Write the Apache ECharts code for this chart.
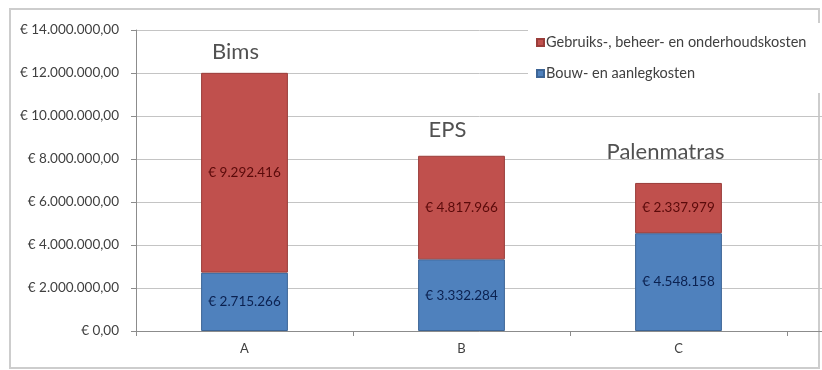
<!DOCTYPE html>
<html>
<head>
<meta charset="utf-8">
<script src="https://cdn.jsdelivr.net/npm/echarts@6/dist/echarts.min.js"></script>
<style>
  html, body { margin: 0; padding: 0; background: #fff; }
  #chart { width: 822px; height: 370px; }
</style>
</head>
<body>
<div id="chart"></div>
<script>
// data
const categories = ['A', 'B', 'C', '']
const bouwKosten = [2715266, 3332284, 4548158]
const gebruiksKosten = [9292416, 4817966, 2337979]
const variantNames = ['Bims', 'EPS', 'Palenmatras']
const seriesNames = ['Gebruiks-, beheer- en onderhoudskosten', 'Bouw- en aanlegkosten']
const yTicks = { min: 0, max: 14000000, interval: 2000000 }

// label nudges for the variant names above each bar
const nameOffsets = [[-9, -21], [-14, -26], [-13, -31]]

const FONT = 'Lato'
const dots = (v) => String(Math.round(v)).replace(/\B(?=(\d{3})+(?!\d))/g, '.')

const chart = echarts.init(document.getElementById('chart'))
chart.setOption({
  animation: false,
  textStyle: { fontFamily: FONT },
  // the picture is cut off on the right, so the plot runs past the edge
  grid: {
    left: 136, width: 868, top: 30, bottom: 39,
    containLabel: false, outerBoundsMode: 'none',
  },
  legend: {
    data: seriesNames,
    orient: 'vertical',
    left: 528,
    top: 23,
    backgroundColor: '#fff',
    padding: [12, 60, 12, 8],
    itemWidth: 7,
    itemHeight: 7,
    itemGap: 16,
    icon: 'rect',
    textStyle: { fontFamily: FONT, fontSize: 14.5, color: '#404040', padding: [0, 0, 0, -3] },
  },
  graphic: [
    {
      type: 'rect',
      shape: { x: 10, y: 9, width: 809, height: 359 },
      style: { fill: 'none', stroke: '#cdcdcd', lineWidth: 2 },
      z: 0,
    },
  ],
  xAxis: {
    type: 'category',
    data: categories,
    axisLine: { lineStyle: { color: '#8c8c8c' } },
    axisTick: { show: true, length: 5, lineStyle: { color: '#8c8c8c' } },
    axisLabel: { color: '#404040', fontSize: 13, margin: 11 },
  },
  yAxis: {
    type: 'value',
    min: yTicks.min,
    max: yTicks.max,
    interval: yTicks.interval,
    axisLine: { show: true, lineStyle: { color: '#8c8c8c' } },
    axisTick: { show: true, length: 5, lineStyle: { color: '#8c8c8c' } },
    splitLine: { lineStyle: { color: '#c4c4c4' } },
    axisLabel: {
      color: '#404040',
      fontSize: 13.5,
      margin: 17,
      formatter: (v) => '€ ' + dots(v) + ',00',
    },
  },
  series: [
    {
      name: seriesNames[1],
      type: 'bar',
      stack: 'kosten',
      barWidth: '40%',
      data: bouwKosten,
      itemStyle: { color: '#4f81bd', borderColor: '#3d6596', borderWidth: 1 },
      label: {
        show: true,
        position: 'inside',
        color: '#0b2150',
        fontSize: 13.5,
        formatter: (p) => '€ ' + dots(p.value),
      },
    },
    {
      name: seriesNames[0],
      type: 'bar',
      stack: 'kosten',
      data: gebruiksKosten,
      itemStyle: { color: '#c0504d', borderColor: '#9a3d3a', borderWidth: 1 },
      label: {
        show: true,
        position: 'inside',
        color: '#5a0a0a',
        fontSize: 13.5,
        formatter: (p) => '€ ' + dots(p.value),
      },
    },
    {
      name: 'namen',
      type: 'scatter',
      symbolSize: 0,
      silent: true,
      data: variantNames.map((name, i) => ({
        value: bouwKosten[i] + gebruiksKosten[i],
        name,
        label: { offset: nameOffsets[i] },
      })),
      label: {
        show: true,
        position: 'inside',
        formatter: (p) => p.name,
        color: '#262626',
        fontSize: 22,
        fontFamily: FONT,
      },
    },
  ],
})
</script>
</body>
</html>
